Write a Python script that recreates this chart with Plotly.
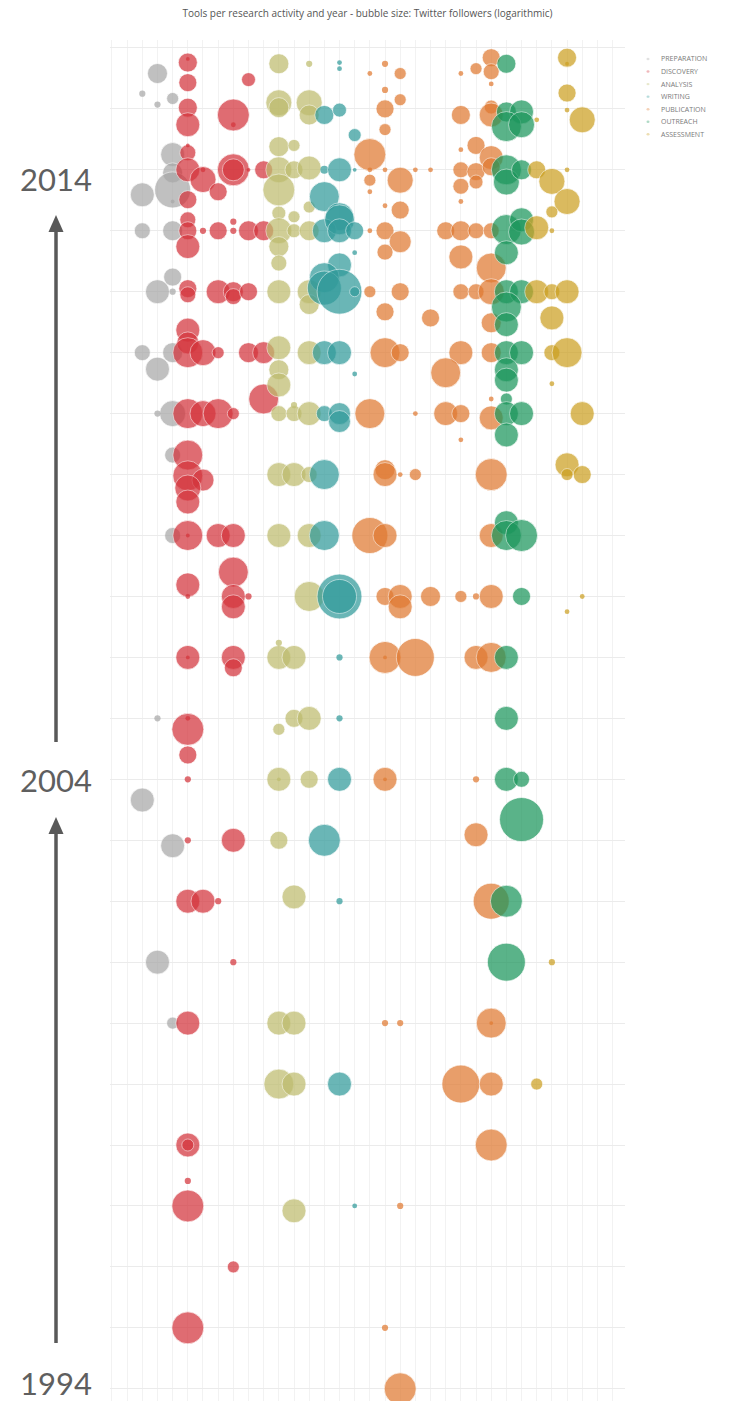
import numpy as np
import plotly.graph_objects as go

# Research activities (legend order) and their colours
categories = ["PREPARATION", "DISCOVERY", "ANALYSIS", "WRITING",
              "PUBLICATION", "OUTREACH", "ASSESSMENT"]
colors = ["rgb(168,168,168)", "rgb(212,52,60)", "rgb(190,188,110)", "rgb(50,155,155)",
          "rgb(224,122,50)", "rgb(28,150,92)", "rgb(204,160,34)"]

# Each tool: (tool column, launch year, Twitter followers)
preparation = [
    (1, 2015.58, 320), (0, 2015.25, 6), (1, 2015.07, 6), (2, 2015.17, 32),
    (2, 2014.25, 1000), (2, 2013.95, 320), (2, 2013.67, 32000), (0, 2013.59, 1000), (2, 2013.48, 3),
    (0, 2013.0, 100), (2, 2013.0, 320),
    (2, 2012.24, 180), (1, 2012.0, 1000), (2, 2012.0, 6),
    (0, 2011.0, 100), (2, 2011.0, 320), (1, 2010.73, 1000),
    (2, 2010.0, 1800), (1, 2010.0, 6),
    (2, 2009.32, 100), (2, 2008.0, 100), (1, 2005.0, 6),
    (0, 2003.66, 1000), (2, 2002.91, 1000), (1, 2001.0, 1000), (2, 2000.0, 32),
]

discovery = [
    (3, 2015.76, 240), (3, 2015.82, 3), (3, 2015.43, 180), (3, 2015.02, 240), (3, 2014.74, 1000),
    (7, 2015.48, 56), (6, 2014.90, 10000), (6, 2014.74, 4),
    (3, 2014.28, 100), (3, 2014.40, 3), (3, 2014.0, 1000), (4, 2013.84, 1800), (4, 2014.0, 4),
    (5, 2013.64, 180), (3, 2013.51, 180), (6, 2014.0, 10000), (6, 2014.0, 560), (7, 2014.0, 3),
    (8, 2014.0, 180),
    (3, 2013.18, 100), (3, 2013.0, 180), (4, 2013.0, 6), (5, 2013.0, 180), (6, 2013.15, 6),
    (6, 2013.0, 6), (7, 2013.0, 320), (8, 2013.0, 320), (3, 2012.74, 1000),
    (3, 2012.05, 180), (3, 2011.95, 100), (5, 2012.0, 1000), (6, 2012.0, 320), (6, 2011.92, 100),
    (7, 2012.0, 180),
    (3, 2011.37, 1000), (3, 2011.16, 560), (3, 2011.0, 5600), (4, 2011.0, 1800), (5, 2011.0, 32),
    (7, 2011.0, 320), (8, 2011.0, 560), (8, 2010.24, 5600),
    (3, 2010.0, 5600), (4, 2010.0, 1800), (5, 2010.0, 5600), (6, 2010.0, 32),
    (3, 2009.32, 5600), (3, 2008.98, 5600), (4, 2008.91, 560), (3, 2008.78, 1800), (3, 2008.55, 1000),
    (3, 2008.0, 5600), (3, 2008.0, 3), (5, 2008.0, 1000), (6, 2008.0, 1000),
    (3, 2007.19, 1000), (3, 2007.0, 4), (6, 2007.40, 5600), (6, 2007.0, 1000), (6, 2006.83, 1000),
    (7, 2007.0, 6),
    (3, 2006.0, 1000), (3, 2006.0, 3), (6, 2006.0, 1000), (6, 2005.83, 180),
    (3, 2005.0, 4), (3, 2004.82, 10000), (3, 2004.40, 180), (3, 2004.0, 6),
    (3, 2003.0, 6), (6, 2003.0, 1000),
    (3, 2002.0, 1000), (4, 2002.0, 1000), (5, 2002.0, 6), (6, 2001.0, 6),
    (3, 2000.0, 1000), (3, 1998.0, 1000), (3, 1998.0, 32),
    (3, 1997.41, 6), (3, 1997.0, 10000), (6, 1996.0, 32), (3, 1995.0, 10000),
]

analysis = [
    (9, 2015.74, 320), (11, 2015.74, 6), (9, 2015.10, 1800), (9, 2015.02, 320), (11, 2015.10, 1800),
    (11, 2014.90, 320),
    (9, 2014.38, 320), (10, 2014.40, 32), (9, 2014.0, 1800), (10, 2014.0, 180), (11, 2014.03, 1000),
    (9, 2013.67, 10000), (11, 2013.39, 32), (9, 2013.29, 56), (10, 2013.23, 32),
    (9, 2013.0, 1800), (10, 2013.0, 56), (11, 2013.0, 320), (9, 2012.74, 320), (9, 2012.47, 100),
    (9, 2012.0, 1000), (11, 2012.0, 1000), (11, 2011.79, 320),
    (9, 2011.08, 1000), (11, 2011.0, 1000), (9, 2010.72, 320), (9, 2010.47, 1000),
    (9, 2010.0, 100), (10, 2010.0, 100), (10, 2010.14, 6), (11, 2010.0, 1000),
    (9, 2009.0, 1000), (10, 2009.0, 1000), (11, 2009.0, 100),
    (9, 2008.0, 1000), (11, 2008.0, 1000), (11, 2007.0, 5600),
    (9, 2006.0, 1000), (10, 2006.0, 1000), (9, 2006.24, 6),
    (10, 2005.0, 180), (11, 2005.0, 1000), (9, 2004.82, 32),
    (9, 2004.0, 1000), (9, 2004.0, 3), (11, 2004.0, 180), (9, 2003.0, 180), (10, 2002.07, 1000),
    (9, 2000.0, 1000), (10, 2000.0, 1000), (9, 1999.0, 5600), (10, 1999.0, 1000), (10, 1996.92, 1000),
]

writing = [
    (13, 2015.76, 4), (13, 2015.66, 4), (12, 2014.90, 240), (13, 2014.98, 56), (14, 2014.57, 42),
    (12, 2014.0, 10), (13, 2014.0, 1000), (14, 2014.0, 3), (12, 2013.56, 5600), (13, 2013.23, 3200),
    (12, 2013.0, 1000), (13, 2013.18, 5600), (13, 2013.0, 1000), (14, 2013.0, 180), (14, 2012.64, 4),
    (13, 2012.44, 1000), (12, 2012.23, 5600), (12, 2012.06, 18000), (13, 2012.0, 400000),
    (14, 2012.0, 18),
    (12, 2011.0, 1000), (13, 2011.0, 1000), (14, 2010.65, 4),
    (12, 2010.0, 100), (13, 2010.0, 560), (13, 2009.87, 560),
    (12, 2009.0, 5600), (12, 2008.0, 5600), (13, 2007.0, 400000), (13, 2007.0, 18000),
    (13, 2006.0, 6), (13, 2005.0, 6), (13, 2004.0, 1000), (12, 2003.0, 10000), (13, 2002.0, 6),
    (13, 1999.0, 1000), (14, 1997.0, 4),
]

publication = [
    (15, 2015.58, 4), (16, 2015.74, 6), (17, 2015.58, 32), (16, 2015.31, 6), (17, 2015.15, 32),
    (16, 2015.00, 180), (16, 2014.66, 32), (15, 2014.25, 10000),
    (23, 2015.84, 180), (23, 2015.61, 100), (22, 2015.66, 32), (21, 2015.58, 4), (23, 2015.41, 4),
    (21, 2014.90, 240), (23, 2015.03, 56), (23, 2014.90, 1000),
    (15, 2014.0, 4), (16, 2014.0, 4), (18, 2014.0, 4), (19, 2014.0, 4),
    (17, 2013.83, 1800), (15, 2013.83, 32), (15, 2013.64, 4), (16, 2013.41, 4), (17, 2013.34, 180),
    (21, 2014.33, 4), (22, 2014.40, 180), (23, 2014.20, 1000), (21, 2014.0, 100), (21, 2013.73, 100),
    (21, 2013.48, 4), (22, 2013.97, 180), (22, 2013.80, 56), (23, 2014.05, 180),
    (15, 2013.0, 4), (16, 2013.0, 180), (17, 2012.82, 560), (16, 2012.65, 100),
    (20, 2013.0, 180), (21, 2013.0, 320), (22, 2013.0, 100), (23, 2013.0, 100),
    (21, 2012.57, 1000), (23, 2012.39, 5600),
    (15, 2012.0, 32), (17, 2012.0, 180), (16, 2011.67, 180), (19, 2011.57, 180),
    (21, 2012.0, 100), (22, 2012.0, 100), (23, 2012.0, 1800), (23, 2011.49, 320),
    (16, 2011.0, 5600), (17, 2011.0, 180), (21, 2011.0, 1000), (20, 2010.67, 5600), (23, 2011.0, 320),
    (15, 2010.0, 5600), (18, 2010.0, 4), (20, 2010.0, 1000), (21, 2010.0, 180), (23, 2009.93, 1000),
    (23, 2010.24, 4), (21, 2009.57, 4),
    (16, 2009.08, 320), (16, 2009.0, 1000), (17, 2009.0, 4), (18, 2009.0, 32), (23, 2009.0, 10000),
    (15, 2008.0, 32000), (16, 2008.0, 1000), (23, 2008.0, 1000),
    (16, 2007.0, 180), (17, 2007.0, 1000), (17, 2006.83, 1000), (19, 2007.0, 320), (21, 2007.0, 32),
    (22, 2007.0, 6), (23, 2007.0, 1000),
    (16, 2006.0, 10000), (16, 2006.0, 3), (18, 2006.0, 56000), (22, 2006.0, 1000), (23, 2006.0, 5600),
    (16, 2004.0, 1000), (16, 2004.0, 3), (22, 2004.0, 6), (22, 2003.09, 1000), (23, 2002.0, 32000),
    (16, 2000.0, 6), (17, 2000.0, 6), (23, 2000.0, 5600), (23, 2000.0, 3),
    (21, 1999.0, 56000), (23, 1999.0, 1000), (23, 1998.0, 10000),
    (17, 1997.0, 6), (16, 1995.0, 6), (17, 1994.0, 10000),
]

outreach = [
    (24, 2015.74, 240), (24, 2014.95, 320), (25, 2014.95, 1000), (24, 2014.71, 5600),
    (25, 2014.74, 1800),
    (24, 2014.0, 5600), (24, 2013.80, 1800), (25, 2014.0, 320),
    (24, 2013.02, 5600), (25, 2013.18, 1000), (25, 2012.98, 1800), (24, 2012.64, 1000),
    (24, 2012.0, 1000), (25, 2012.0, 1000), (24, 2011.75, 5600), (24, 2011.46, 1000),
    (24, 2011.0, 1000), (25, 2011.0, 1000), (24, 2010.72, 1000), (24, 2010.55, 1000),
    (24, 2010.24, 32), (24, 2010.0, 1000), (25, 2010.0, 1000), (24, 2009.65, 1000),
    (24, 2008.21, 1000), (24, 2008.0, 5600), (25, 2008.0, 10000), (25, 2007.0, 180),
    (24, 2006.0, 1000), (24, 2005.0, 1000), (24, 2004.0, 1000), (25, 2004.0, 100),
    (25, 2003.34, 320000), (24, 2002.0, 10000), (24, 2001.0, 56000),
]

assessment = [
    (28, 2015.84, 240), (28, 2015.74, 3), (28, 2015.26, 180), (28, 2014.98, 4), (29, 2014.82, 1800),
    (26, 2014.82, 4), (26, 2014.0, 180), (27, 2013.81, 1800), (28, 2014.0, 4), (28, 2013.48, 1800),
    (27, 2013.31, 32), (26, 2013.05, 1000), (27, 2013.0, 4),
    (26, 2012.0, 1000), (27, 2012.0, 100), (28, 2012.0, 1000), (27, 2011.57, 1000),
    (27, 2011.0, 100), (28, 2011.0, 5600), (27, 2010.49, 4), (29, 2010.0, 1000),
    (28, 2009.16, 1000), (29, 2009.0, 180), (28, 2009.0, 32),
    (29, 2007.0, 4), (28, 2006.75, 4), (27, 2001.0, 6), (26, 1999.0, 32),
]

tools = [preparation, discovery, analysis, writing, publication, outreach, assessment]

title_text = "Tools per research activity and year - bubble size: Twitter followers (logarithmic)"
year_labels = ["2014", "2004", "1994"]

# ---- page geometry (pixels) ----
W, H = 735, 1401
ML, MR, MT, MB = 110, 110, 40, 0


def px_x(p):
    return (p - ML) / (W - ML - MR)


def px_y(p):
    return (H - MB - p) / (H - MT - MB)


fig = go.Figure()

for name, color, rows in zip(categories, colors, tools):
    col = [r[0] for r in rows]
    year = [r[1] for r in rows]
    followers = np.array([r[2] for r in rows], dtype=float)
    # bubble diameter grows with the logarithm of the follower count
    diameter = 8.0 * np.log10(followers)
    # thin light rim on the larger bubbles only, so the small dots stay solid
    rim = np.where(diameter >= 10, 0.8, 0.0)
    fig.add_trace(go.Scatter(
        x=col, y=year, mode="markers", name=name, showlegend=False,
        customdata=followers,
        marker=dict(size=diameter, sizemode="diameter", color=color, opacity=0.72,
                    line=dict(color="rgba(255,255,255,0.85)", width=rim)),
        hovertemplate=name + "<br>%{y:.1f}<br>%{customdata:,.0f} followers<extra></extra>",
    ))

annotations = []
shapes = []

# compact legend at the upper right
for i, (name, color) in enumerate(zip(categories, colors)):
    yy = 59 + 12.55 * i
    annotations.append(dict(
        xref="paper", yref="paper", x=px_x(659), y=px_y(yy), xanchor="left", yanchor="middle",
        text=name, showarrow=False, font=dict(family="Open Sans", size=7, color="#7a7a7a")))
    shapes.append(dict(
        type="circle", xref="paper", yref="paper",
        x0=px_x(646.5), x1=px_x(649.5), y0=px_y(yy - 1.2), y1=px_y(yy + 1.2),
        fillcolor=color, opacity=0.35, line=dict(width=0)))

# year markers with upward arrows on the left
for label, yy in zip(year_labels, [179, 780, 1383]):
    annotations.append(dict(
        xref="paper", yref="paper", x=px_x(56), y=px_y(yy), xanchor="center", yanchor="middle",
        text=label, showarrow=False, font=dict(family="Lato", size=31, color="#5f5f5f")))

for y_tail, y_tip in [(1343, 817), (742, 215)]:
    shapes.append(dict(
        type="line", xref="paper", yref="paper",
        x0=px_x(56), x1=px_x(56), y0=px_y(y_tail), y1=px_y(y_tip + 14),
        line=dict(color="#595959", width=3.5)))
    shapes.append(dict(
        type="path", xref="paper", yref="paper",
        path="M {a},{b} L {c},{d} L {e},{b} Z".format(
            a=px_x(48.5), b=px_y(y_tip + 17), c=px_x(56), d=px_y(y_tip), e=px_x(63.5)),
        fillcolor="#595959", line=dict(width=0)))

fig.update_layout(
    width=W, height=H,
    margin=dict(l=ML, r=MR, t=MT, b=MB),
    paper_bgcolor="white", plot_bgcolor="white",
    title=dict(text=title_text, x=0.5, xanchor="center", y=1 - 13 / H, yanchor="middle",
               font=dict(family="Open Sans", size=10, color="#555555")),
    xaxis=dict(range=[-2.13, 31.82], dtick=1, tick0=0, showticklabels=False,
               showgrid=True, gridcolor="#f2f2f2", gridwidth=1, zeroline=False, showline=False),
    yaxis=dict(range=[1993.80, 2016.13], dtick=1, tick0=1994, showticklabels=False,
               showgrid=True, gridcolor="#ebebeb", gridwidth=1, zeroline=False, showline=False),
    annotations=annotations,
    shapes=shapes,
    showlegend=False,
)

fig.write_html("out.html")
